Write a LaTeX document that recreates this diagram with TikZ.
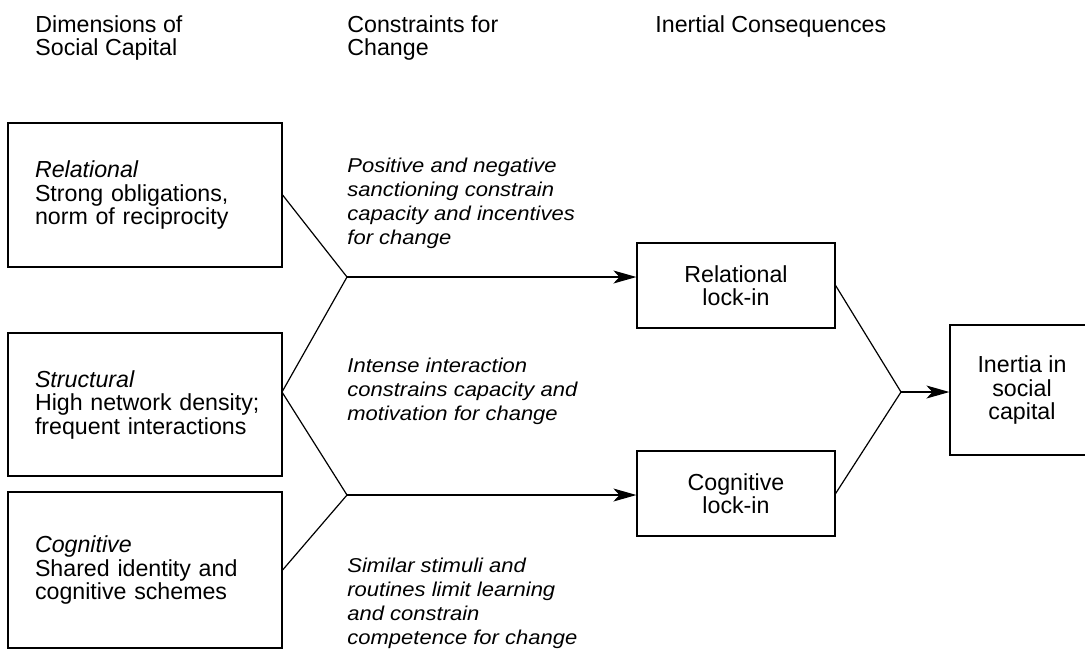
\documentclass[tikz,border=0pt]{standalone}
\usepackage{fontspec}
\setmainfont{Liberation Sans}
\newfontfamily\notefont{Liberation Sans}[FakeStretch=1.1]
\usetikzlibrary{arrows.meta}
\tikzset{dimbox/.style={draw, line width=0.6pt, text width=110pt, inner xsep=13.5pt, align=left},
    lockbox/.style={draw, line width=0.6pt, align=center, minimum width=99pt, minimum height=42.5pt},
    head/.style={anchor=north west, inner sep=0pt, align=left},
    note/.style={head, font=\notefont\itshape},
    link/.style={line width=0.6pt},
    push/.style={line width=0.6pt, -{Stealth[length=11.5pt, width=6.5pt, inset=3pt]}},
    }

\begin{document}
\begin{tikzpicture}[x=0.5pt, y=-0.5pt, font=\fontsize{11.6}{11.75}\selectfont]
	\useasboundingbox (0,0) rectangle (1085,650);
	% column heads
	\node[head] (hdim) at (35,15) {Dimensions of\\Social Capital};
	\node[head] (hcon) at (347,15) {Constraints for\\Change};
	\node[head] (hine) at (655,15) {Inertial Consequences};
	% dimensions
	\node[dimbox, minimum height=72pt] (rel) at (145,195) {\textit{Relational}\\Strong obligations,\\norm of reciprocity};
	\node[dimbox, minimum height=71.5pt] (str) at (145,404.5) {\textit{Structural}\\\mbox{High network density;}\\frequent interactions};
	\node[dimbox, minimum height=78pt] (cog) at (145,570) {\textit{Cognitive}\\Shared identity and\\cognitive schemes};
	% constraints
	\node[note] (nrel) at (347,158) {Positive and negative\\sanctioning constrain\\capacity and incentives\\for change};
	\node[note] (nstr) at (347,358) {Intense interaction\\constrains capacity and\\motivation for change};
	\node[note] (ncog) at (347,558) {Similar stimuli and\\routines limit learning\\and constrain\\competence for change};
	% consequences
	\node[lockbox] (rellock) at (736,285.5) {Relational\\lock-in};
	\node[lockbox] (coglock) at (736,493.5) {Cognitive\\lock-in};
	\node[lockbox, minimum width=72pt, minimum height=65pt] (inertia) at (1022,390) {Inertia in\\social\\capital};
	\coordinate (sv) at (282,392);
	\coordinate (j1) at (347,277);
	\coordinate (j2) at (347,495);
	\coordinate (j3) at (901,392);
	\draw[link] (rel.east) -- (j1) -- (sv) -- (j2) -- (cog.east);
	\draw[push] (j1) -- (j1 -| rellock.west);
	\draw[push] (j2) -- (j2 -| coglock.west);
	\draw[link] (rellock.east) -- (j3) -- (coglock.east);
	\draw[push] (j3) -- (j3 -| inertia.west);
\end{tikzpicture}
\end{document}
